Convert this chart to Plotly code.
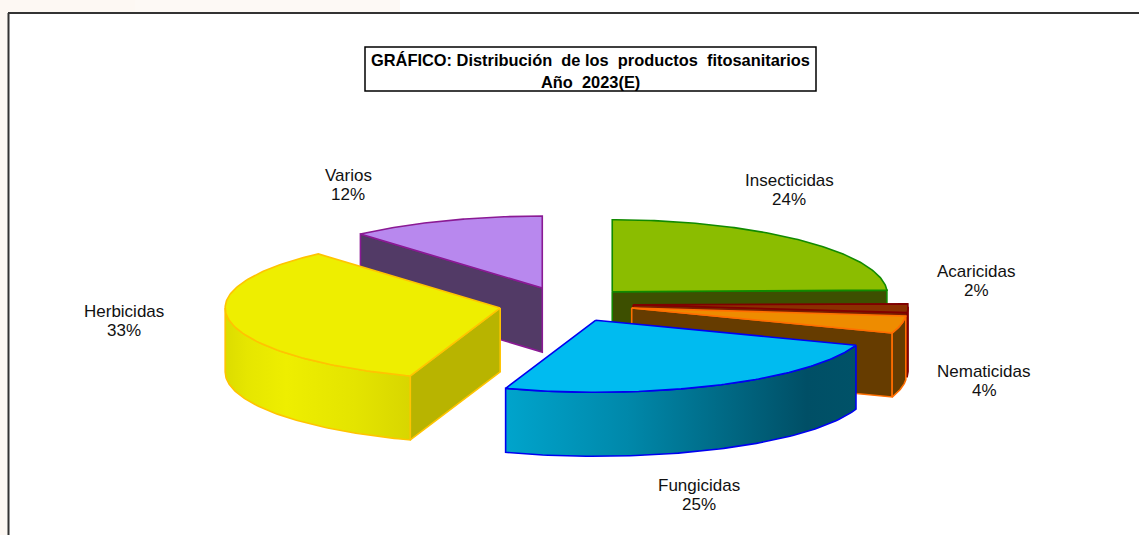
import math
import numpy as np
import plotly.graph_objects as go

# ---- data ----
categories = ["Insecticidas", "Acaricidas", "Nematicidas", "Fungicidas", "Herbicidas", "Varios"]
values = [24.2, 2.1, 3.9, 25.1, 33.2, 11.5]
title_lines = ["GRÁFICO: Distribución\u00a0 de los\u00a0 productos\u00a0 fitosanitarios", "Año\u00a0 2023(E)"]

# ---- styles and pie geometry ----
W, H = 1139, 535
CX, CY = 566, 304.5
RX, RY = 275, 72
DEPTH = 64
EXPLODE = 0.244
SAG = 2.0
FONT = "Liberation Sans, Arial, sans-serif"

top_col = dict(Insecticidas="#8bbd00", Acaricidas="#8b2f00", Nematicidas="#ee8c00",
               Fungicidas="#00bbf0", Herbicidas="#eeee00", Varios="#b888ee")
line_col = dict(Insecticidas="#118a00", Acaricidas="#800000", Nematicidas="#ff6e00",
                Fungicidas="#0000f0", Herbicidas="#ffc400", Varios="#8a1a94")
cut_col = dict(Insecticidas="#3d4f00", Acaricidas="#7a2000", Nematicidas="#663c00",
               Fungicidas="#004f66", Herbicidas="#b8b400", Varios="#523a66")
wall_grad = dict(
    Fungicidas=[[0, "#00a4cc"], [0.35, "#0088aa"], [0.6, "#006c88"], [0.86, "#004f66"], [1, "#005268"]],
    Herbicidas=[[0, "#dcdc00"], [0.12, "#e6e600"], [0.33, "#eeee00"], [0.7, "#e4e400"], [1, "#d8d600"]],
)
draw_order = ["Varios", "Insecticidas", "Acaricidas", "Nematicidas", "Herbicidas", "Fungicidas"]
label_pos = dict(Insecticidas=(789, 180), Acaricidas=(976, 271), Nematicidas=(984, 371),
                 Fungicidas=(699, 485), Herbicidas=(124, 311), Varios=(348, 175))
LINE_GAP = 19.5

# ---- slices from values ----
total = sum(values)
edges = np.concatenate([[0], np.cumsum(values)]) * 360.0 / total
span = {c: (edges[i], edges[i + 1]) for i, c in enumerate(categories)}


def rim(ang, ax, ay):
    a = np.radians(ang)
    s = np.sin(a)
    return ax + RX * s, ay - RY * np.cos(a) + SAG * np.maximum(s, 0) ** 2


def poly(xs, ys, name, fill=None, grad=None):
    xs = list(xs) + [xs[0]]
    ys = list(ys) + [ys[0]]
    kw = dict(fillgradient=dict(type="horizontal", colorscale=grad)) if grad else dict(fillcolor=fill)
    return go.Scatter(x=xs, y=ys, mode="lines", fill="toself", name=name, hoverinfo="skip",
                      showlegend=False, line=dict(color=line_col[name], width=1.6), **kw)


fig = go.Figure()
for c in draw_order:
    a0, a1 = span[c]
    mid = math.radians((a0 + a1) / 2)
    ax = CX + EXPLODE * RX * math.sin(mid)
    ay = CY - EXPLODE * RY * math.cos(mid)
    # straight cut faces turned towards the viewer
    for ang, sign in ((a0, -1), (a1, 1)):
        if sign * math.sin(math.radians(ang)) > 1e-6:
            rx_, ry_ = rim(ang, ax, ay)
            fig.add_trace(poly([ax, rx_, rx_, ax], [ay, ry_, ry_ + DEPTH, ay + DEPTH], c, fill=cut_col[c]))
    # outer curved wall (front half only)
    w0, w1 = max(a0, 90), min(a1, 270)
    if w1 > w0:
        t = np.linspace(w0, w1, 80)
        xs, ys = rim(t, ax, ay)
        wx = list(xs) + list(xs[::-1])
        wy = list(ys) + list((ys + DEPTH)[::-1])
        fig.add_trace(poly(wx, wy, c, fill=cut_col[c], grad=wall_grad.get(c)))
    # top face
    t = np.linspace(a0, a1, 120)
    xs, ys = rim(t, ax, ay)
    fig.add_trace(poly([ax] + list(xs), [ay] + list(ys), c, fill=top_col[c]))

annotations = []
for c, v in zip(categories, values):
    x, y = label_pos[c]
    for k, txt in enumerate((c, f"{v:.0f}%")):
        annotations.append(dict(x=x, y=y + k * LINE_GAP, xref="x", yref="y", showarrow=False, align="center",
                                text=txt, font=dict(family=FONT, size=17, color="#111")))
annotations.append(dict(x=590.5, y=60, xref="x", yref="y", showarrow=False, text=f"<b>{title_lines[0]}</b>",
                        font=dict(family=FONT, size=16.4, color="#000")))
annotations.append(dict(x=590.5, y=81.5, xref="x", yref="y", showarrow=False, text=f"<b>{title_lines[1]}</b>",
                        font=dict(family=FONT, size=16.4, color="#000")))

shapes = [
    dict(type="rect", x0=0, x1=8, y0=0, y1=H, fillcolor="#fdf8f3", line_width=0, layer="below"),
    dict(type="rect", x0=0, x1=135, y0=0, y1=13, fillcolor="#fdf8f3", line_width=0, layer="below"),
    dict(type="rect", x0=135, x1=400, y0=0, y1=13, fillcolor="#fdf9f5", line_width=0, layer="below"),
    dict(type="line", x0=8.5, x1=8.5, y0=13, y1=H, line=dict(color="#333", width=2)),
    dict(type="line", x0=8, x1=W, y0=13, y1=13, line=dict(color="#333", width=2)),
    dict(type="rect", x0=365, x1=816, y0=47, y1=91, fillcolor="white", line=dict(color="#000", width=1.5)),
]

hidden = dict(visible=False, fixedrange=True)
fig.update_layout(
    width=W, height=H, margin=dict(l=0, r=0, t=0, b=0), autosize=False,
    paper_bgcolor="white", plot_bgcolor="white", showlegend=False,
    xaxis=dict(range=[0, W], **hidden), yaxis=dict(range=[H, 0], **hidden),
    shapes=shapes, annotations=annotations,
)
fig.write_html("out.html", config=dict(displayModeBar=False),
               post_script="document.body.style.margin='0';document.body.style.overflow='hidden';")
